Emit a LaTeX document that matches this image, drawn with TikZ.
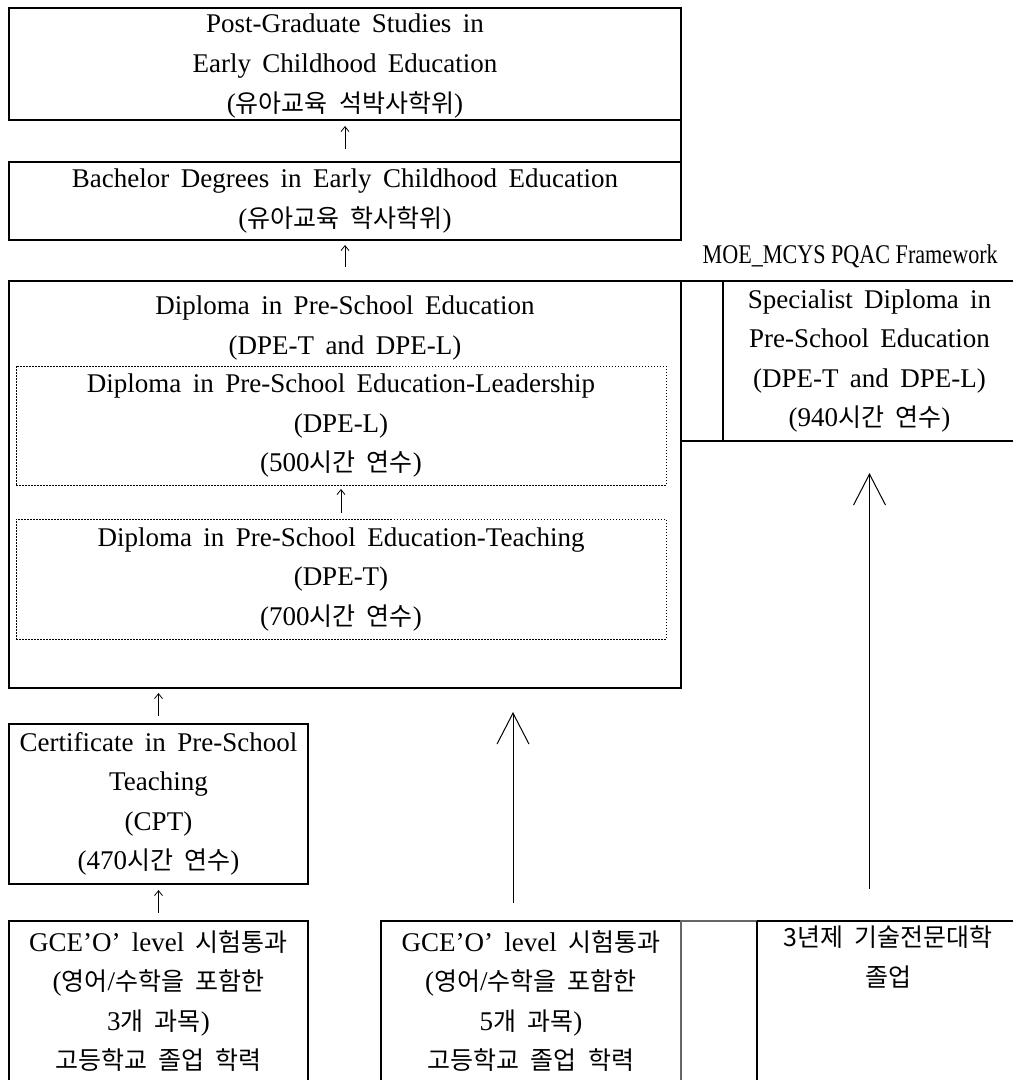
\documentclass[tikz,border=0pt]{standalone}
\usepackage{fontspec}
\usetikzlibrary{arrows.meta}
\setmainfont{Liberation Serif}[WordSpace=1.7]
\newfontfamily\kor{Noto Sans CJK KR}[WordSpace=2]
\newfontfamily\narrowfont{Liberation Serif}[FakeStretch=0.82]
\newcommand\KR[1]{{\kor\fontsize{25}{39.5}\selectfont #1}}
\tikzset{
  txt/.style={font=\fontsize{27}{39.5}\selectfont, align=center, inner sep=0pt},
  cell/.style={draw, line width=1.1pt, inner sep=0pt, outer sep=0pt, anchor=north west,
    align=center, font=\fontsize{27}{39.5}\selectfont},
  dotbox/.style={cell, draw=black, line width=1pt, dash pattern=on 1.5pt off 1.5pt},
  blank/.style={inner sep=0pt, outer sep=0pt, anchor=north west},
  thickrule/.style={line width=2pt},
  sarrow/.style={line width=0.8pt, -{Straight Barb[length=5pt,width=8pt]}},
  barrow/.style={line width=1pt, -{Straight Barb[length=31pt,width=32pt]}}
}
\begin{document}
\begin{tikzpicture}[x=1pt,y=-1pt]
\useasboundingbox (0,0) rectangle (1013,1080);
\clip (0,0) rectangle (1013,1080);

% left column of degree boxes
\node[cell, minimum width=672pt, minimum height=112pt] (pg) at (9,8) {};
\node[txt, font=\fontsize{27}{40}\selectfont] (pgtext) at (345,66.5)
  {Post-Graduate Studies in\\Early Childhood Education\\(\KR{유아교육 석박사학위})};
\node[cell, minimum width=672pt, minimum height=78pt] (bach) at (9,162)
  {Bachelor Degrees in Early Childhood Education\\(\KR{유아교육 학사학위})};
\draw[line width=1.1pt] (pg.south east) -- (bach.north east);

\node[txt, anchor=east] (moe) at (998,256) {\narrowfont MOE\_MCYS PQAC Framework};

% diploma block
\node[cell, minimum width=672pt, minimum height=407pt] (dip) at (9,281) {};
\node[txt] (diptitle) at (345,328) {Diploma in Pre-School Education\\(DPE-T and DPE-L)};
\node[dotbox, minimum width=650pt, minimum height=119pt] (dipl) at (16,366)
  {Diploma in Pre-School Education-Leadership\\(DPE-L)\\(500\KR{시간 연수})};
\node[dotbox, minimum width=650pt, minimum height=120pt] (dipt) at (16,519)
  {Diploma in Pre-School Education-Teaching\\(DPE-T)\\(700\KR{시간 연수})};

% specialist diploma row
\node[cell, minimum width=340pt, minimum height=160pt] (specrow) at (681,281) {};
\node[blank, minimum width=293pt, minimum height=160pt, align=center,
  font=\fontsize{27}{39.5}\selectfont] (spec) at (723,281)
  {Specialist Diploma in\\Pre-School Education\\(DPE-T and DPE-L)\\(940\KR{시간 연수})};
\draw[thickrule] (spec.north west) -- (spec.south west);

% certificate
\node[cell, minimum width=299pt, minimum height=160pt] (cpt) at (9,724)
  {Certificate in Pre-School\\Teaching\\(CPT)\\(470\KR{시간 연수})};

% entry qualifications
\node[cell, minimum width=299pt, minimum height=160pt] (gce1) at (9,921)
  {GCE'O' level \KR{시험통과}\\(\KR{영어}/\KR{수학을 포함한}\\3\KR{개 과목})\\\KR{고등학교 졸업 학력}};
\node[cell, minimum width=300pt, minimum height=160pt] (gce2) at (381,921)
  {GCE'O' level \KR{시험통과}\\(\KR{영어}/\KR{수학을 포함한}\\5\KR{개 과목})\\\KR{고등학교 졸업 학력}};
\node[cell, draw=black!60, minimum width=340pt, minimum height=170pt] (collrow) at (681,921) {};
\node[blank, minimum width=259pt, minimum height=170pt] (coll) at (757,921) {};
\draw[thickrule] (coll.north west) -- (coll.south west);
\draw[line width=1.1pt] (coll.north west) -- (coll.north east);
\node[txt] (colltext) at (888,957) {\KR{3년제 기술전문대학}\\\KR{졸업}};

% small progression arrows
\draw[sarrow, shorten <=13pt, shorten >=6pt] (bach.north) -- (pg.south);
\draw[sarrow, shorten <=14pt, shorten >=5pt] (dip.north) -- (bach.south);
\draw[sarrow, shorten <=6pt, shorten >=4pt] (dipt.north) -- (dipl.south);
\draw[sarrow, shorten <=8pt, shorten >=5pt] (cpt.north) -- (cpt.north |- dip.south);
\draw[sarrow, shorten <=8pt, shorten >=6pt] (gce1.north) -- (cpt.south);

% long entry arrows
\draw[barrow, shorten <=18pt, shorten >=24pt]
  ([xshift=-18pt]gce2.north) -- ([xshift=-18pt]gce2.north |- dip.south);
\draw[barrow, shorten <=32pt, shorten >=32pt]
  (coll.north -| spec.south) -- (spec.south);
\end{tikzpicture}
\end{document}
